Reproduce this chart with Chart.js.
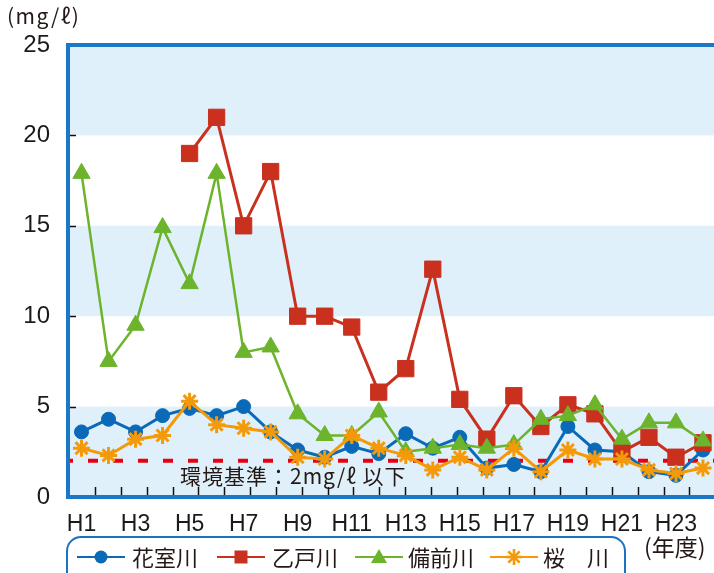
<!DOCTYPE html>
<html><head><meta charset="utf-8">
<script src="https://cdn.jsdelivr.net/npm/chart.js@4"></script>
<style>
html,body{margin:0;padding:0;overflow:hidden;background:#fff;}
#wrap{position:relative;width:714px;height:573px;overflow:hidden;background:#fff;}
canvas{position:absolute;left:0;top:0;}
.t{position:absolute;font-family:'Noto Sans CJK JP','Noto Sans',sans-serif;color:#231815;white-space:nowrap;line-height:1;}
#legendBox{position:absolute;left:66px;top:536px;width:560px;height:60px;border:2.5px solid #1a72c0;border-radius:15px;box-sizing:border-box;}
.icon{position:absolute;}
</style></head>
<body><div id="wrap">
<canvas id="c" width="729" height="573"></canvas>
<div class="t" id="unit" style="left:7px;top:5px;font-size:21px;letter-spacing:1.5px;">(mg/ℓ)</div>
<div class="t" id="std" style="left:180px;top:465px;font-size:21px;letter-spacing:1px;"></div>
<div class="t" id="nendo" style="left:644px;top:535px;font-size:23px;">(年度)</div>
<div id="legendBox"></div>
</div>
<script>
// ---- data ----
const categories = ['H1','H2','H3','H4','H5','H6','H7','H8','H9','H10','H11','H12','H13','H14','H15','H16','H17','H18','H19','H20','H21','H22','H23','H24'];
const seriesNames = ['花室川','乙戸川','備前川','桜　川'];
const hanamuro = [3.6,4.3,3.6,4.5,4.9,4.5,5.0,3.6,2.6,2.2,2.8,2.4,3.5,2.7,3.3,1.6,1.8,1.4,3.9,2.6,2.5,1.4,1.2,2.6];
const otodo    = [null,null,null,null,19.0,21.0,15.0,18.0,10.0,10.0,9.4,5.8,7.1,12.6,5.4,3.2,5.6,3.9,5.1,4.6,2.5,3.3,2.2,3.0];
const bizen    = [17.9,7.5,9.5,14.9,11.8,17.9,8.0,8.3,4.6,3.4,3.4,4.7,2.5,2.7,2.9,2.7,2.9,4.3,4.5,5.1,3.2,4.1,4.1,3.1];
const sakura   = [2.7,2.3,3.2,3.4,5.3,4.0,3.8,3.6,2.2,2.1,3.4,2.7,2.3,1.5,2.2,1.5,2.7,1.4,2.6,2.1,2.1,1.5,1.3,1.6];
const yTickValues = [0,5,10,15,20,25];
const shadedBands = [[0,5],[10,15],[20,25]];
const standardValue = 2;
const standardLabel = '環境基準：2mg/ℓ 以下';

// ---- styles ----
const COLORS = ['#0a6ab8','#c9301e','#6cb42c','#f49a0a'];
const AXIS_BLUE = '#1a78c6';
const BAND = '#dff0fa';

document.getElementById('std').textContent = standardLabel;

Chart.defaults.font.family = "'Liberation Sans', Arial, sans-serif";

const decor = {
  id: 'decor',
  beforeDraw(chart) {
    const {ctx, chartArea: a, scales: {y}} = chart;
    ctx.save();
    ctx.fillStyle = '#fff';
    ctx.fillRect(0, 0, chart.width, chart.height);
    ctx.fillStyle = BAND;
    for (const [lo, hi] of shadedBands) {
      const yt = y.getPixelForValue(hi), yb = y.getPixelForValue(lo);
      ctx.fillRect(a.left, yt, a.right - a.left, yb - yt);
    }
    ctx.restore();
  },
  beforeDatasetsDraw(chart) {
    const {ctx, chartArea: a, scales: {x, y}} = chart;
    ctx.save();
    const ys = y.getPixelForValue(standardValue);
    ctx.strokeStyle = '#e60012';
    ctx.lineWidth = 4;
    ctx.setLineDash([10, 15]);
    ctx.lineDashOffset = 5;
    ctx.beginPath();
    ctx.moveTo(a.left, ys);
    ctx.lineTo(a.right, ys);
    ctx.stroke();
    ctx.setLineDash([]);
    ctx.strokeStyle = '#111';
    ctx.lineWidth = 1.5;
    const n = categories.length;
    const xs = (x.getPixelForValue(0) + x.getPixelForValue(1)) / 2;
    const xe = (x.getPixelForValue(n - 2) + x.getPixelForValue(n - 1)) / 2;
    ctx.beginPath();
    for (let k = 0; k < n; k++) {
      const px = Math.round(xs + k * (xe - xs) / (n - 1)) + 0.5;
      ctx.moveTo(px, a.bottom - 2);
      ctx.lineTo(px, a.bottom - 10);
    }
    for (const v of yTickValues) {
      if (v === y.min || v === y.max) continue;
      const py = Math.round(y.getPixelForValue(v)) + 0.5;
      ctx.moveTo(a.left + 2, py);
      ctx.lineTo(a.left + 8, py);
    }
    ctx.stroke();
    ctx.strokeStyle = AXIS_BLUE;
    ctx.lineWidth = 4;
    ctx.beginPath();
    ctx.moveTo(a.right + 5, a.top);
    ctx.lineTo(a.left, a.top);
    ctx.lineTo(a.left, a.bottom);
    ctx.lineTo(a.right + 5, a.bottom);
    ctx.stroke();
    ctx.restore();
  }
};

const chart = new Chart(document.getElementById('c'), {
  type: 'line',
  data: {
    labels: categories,
    datasets: [
      {label: seriesNames[0], data: hanamuro, borderColor: COLORS[0], backgroundColor: COLORS[0],
       pointBackgroundColor: COLORS[0], pointBorderColor: COLORS[0], pointStyle: 'circle', pointRadius: 7,
       pointBorderWidth: 1, borderWidth: 3, tension: 0, order: 3},
      {label: seriesNames[1], data: otodo, borderColor: COLORS[1], backgroundColor: COLORS[1],
       pointBackgroundColor: COLORS[1], pointBorderColor: COLORS[1], pointStyle: 'rect', pointRadius: 11.5,
       pointBorderWidth: 1, borderWidth: 3, tension: 0, order: 2},
      {label: seriesNames[2], data: bizen, borderColor: COLORS[2], backgroundColor: COLORS[2],
       pointBackgroundColor: COLORS[2], pointBorderColor: COLORS[2], pointStyle: 'triangle', pointRadius: 10,
       pointBorderWidth: 1, borderWidth: 2.5, tension: 0, order: 1},
      {label: seriesNames[3], data: sakura, borderColor: COLORS[3], backgroundColor: COLORS[3],
       pointBackgroundColor: COLORS[3], pointBorderColor: COLORS[3], pointStyle: 'star', pointRadius: 8.5,
       pointBorderWidth: 3, borderWidth: 3, tension: 0, order: 0}
    ]
  },
  options: {
    responsive: false, animation: false, devicePixelRatio: 1,
    layout: {padding: {left: 0, top: 45, right: 3, bottom: 0}},
    plugins: {legend: {display: false}, tooltip: {enabled: false}},
    scales: {
      x: {type: 'category', offset: true, grid: {display: false}, border: {display: false},
          ticks: {autoSkip: false, maxRotation: 0, minRotation: 0, padding: 6, color: '#1a1a1a',
                  font: {size: 23}, callback: (v, i) => (i % 2 === 0 ? categories[i] : '')},
          afterFit: s => { s.height = 76; }},
      y: {min: 0, max: 25, grid: {display: false}, border: {display: false},
          ticks: {stepSize: 5, padding: 10, color: '#1a1a1a', font: {size: 24}},
          afterBuildTicks: s => { s.ticks = yTickValues.map(v => ({value: v})); },
          afterFit: s => { s.width = 68; }}
    }
  },
  plugins: [decor]
});

// ---- legend (HTML) ----
const wrap = document.getElementById('wrap');
const iconLeft = [77, 217, 355, 490];
const textLeft = [132, 272, 408, 543];
const styles = ['circle','rect','triangle','star'];
function iconSvg(style, color) {
  let m = '';
  if (style === 'circle') m = `<circle cx="24" cy="11" r="6.5" fill="${color}"/>`;
  else if (style === 'rect') m = `<rect x="17.5" y="4.5" width="13" height="13" fill="${color}"/>`;
  else if (style === 'triangle') m = `<polygon points="24,3 32,17 16,17" fill="${color}"/>`;
  else m = `<g stroke="${color}" stroke-width="2.6"><line x1="24" y1="3" x2="24" y2="19"/><line x1="16" y1="11" x2="32" y2="11"/><line x1="18.3" y1="5.3" x2="29.7" y2="16.7"/><line x1="29.7" y1="5.3" x2="18.3" y2="16.7"/></g>`;
  return `<svg width="48" height="22" xmlns="http://www.w3.org/2000/svg"><line x1="0" y1="11" x2="48" y2="11" stroke="${color}" stroke-width="2"/>${m}</svg>`;
}
seriesNames.forEach((name, i) => {
  const ic = document.createElement('div');
  ic.className = 'icon';
  ic.style.left = iconLeft[i] + 'px';
  ic.style.top = '546px';
  ic.innerHTML = iconSvg(styles[i], COLORS[i]);
  wrap.appendChild(ic);
  const tx = document.createElement('div');
  tx.className = 't';
  tx.style.left = textLeft[i] + 'px';
  tx.style.top = '545px';
  tx.style.fontSize = '22px';
  tx.textContent = name;
  wrap.appendChild(tx);
});
</script>
</body></html>
